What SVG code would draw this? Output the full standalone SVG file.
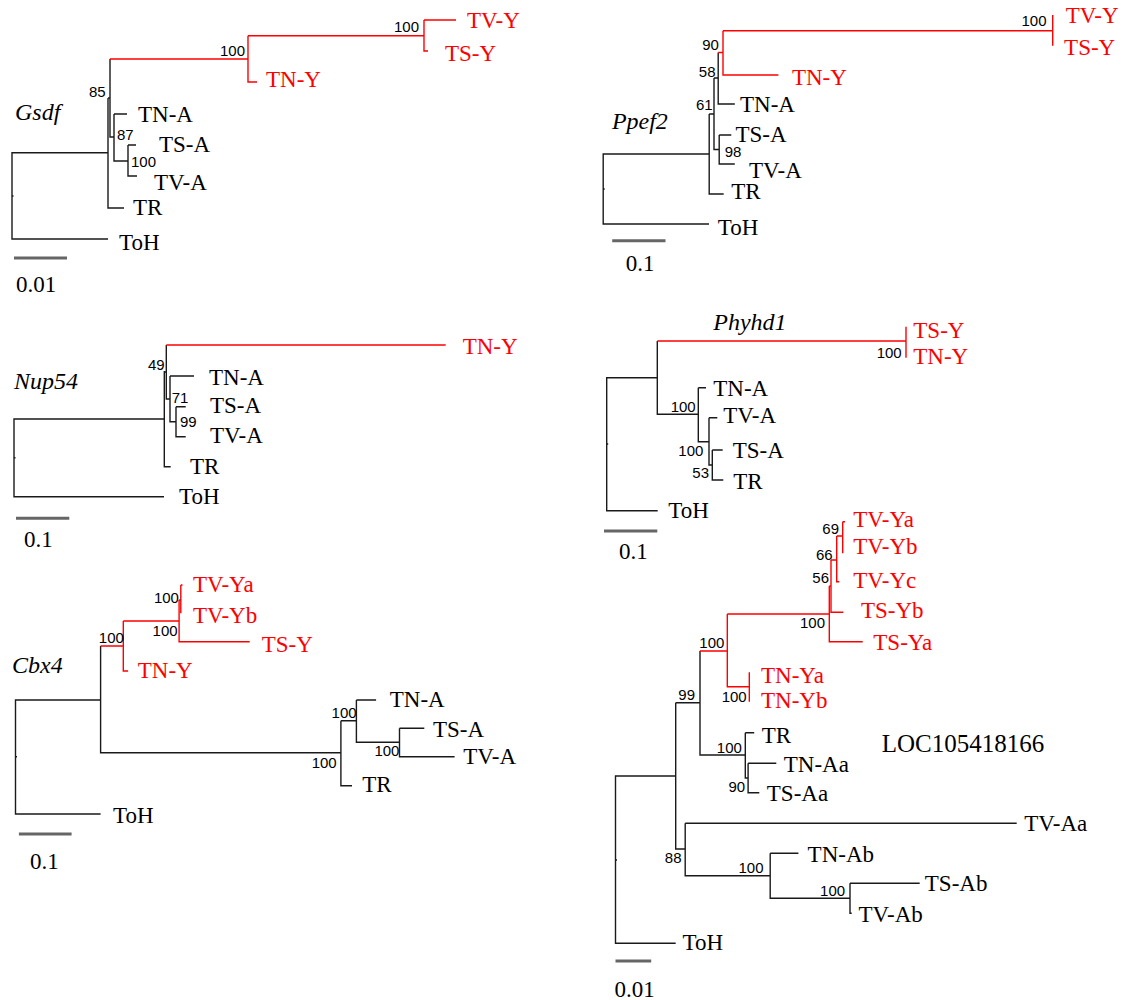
<svg xmlns="http://www.w3.org/2000/svg" width="1123" height="1000" viewBox="0 0 1123 1000">
<style>
.bk{fill:none;stroke:#1a1a1a;stroke-width:1.4}
.rd{fill:none;stroke:#ff0000;stroke-width:1.4}
.sc{fill:none;stroke:#666666;stroke-width:3}
.tip{font-family:"Liberation Serif","Times New Roman",serif;font-size:23px;fill:#000}
.tip.r{fill:#ff0000}
.bs{font-family:"Liberation Sans",Arial,sans-serif;font-size:15px;fill:#000}
.gene{font-family:"Liberation Serif","Times New Roman",serif;font-size:24px;font-style:italic;fill:#000}
.loc{font-family:"Liberation Serif","Times New Roman",serif;font-size:25px;fill:#000}
</style>
<rect width="1123" height="1000" fill="#ffffff"/>

<!-- Gsdf -->
<g id="tree-gsdf">
<g id="gsdf-branches">
<path class="bk" d="M108,152.7H12V239H108M108,98V208H124M108,98H110M110,59V137H114M114,114V161H128M114,114H127M128,145V176H137M128,145H136M12,196h1.5"/>
<path class="rd" d="M110,59H248M248,35.7V82H257M248,35.7H424M424,20V51H428M424,20H456"/>
<path class="sc" d="M14,258H67"/>
</g>
<text class="tip r" x="467" y="28">TV-Y</text>
<text class="tip r" x="445" y="61">TS-Y</text>
<text class="tip r" x="266" y="87">TN-Y</text>
<text class="tip" x="138" y="122">TN-A</text>
<text class="tip" x="159" y="152">TS-A</text>
<text class="tip" x="154" y="190">TV-A</text>
<text class="tip" x="133" y="215">TR</text>
<text class="tip" x="119" y="250">ToH</text>
<text class="gene" x="15" y="120">Gsdf</text>
<text class="bs" x="89" y="97">85</text>
<text class="bs" x="117" y="140">87</text>
<text class="bs" x="131" y="167">100</text>
<text class="bs" x="220" y="56">100</text>
<text class="bs" x="394" y="32">100</text>
<text class="tip" x="16" y="292">0.01</text>
</g>

<!-- Ppef2 -->
<g id="tree-ppef2">
<g id="ppef2-branches">
<path class="bk" d="M709.2,154H603.2V224H709M709.2,114V194H723.7M709.2,114H714M714,78V149.5H719.2M714,78H718.2M718.2,52.5V104H734.8M719.2,135V164H734.8M719.2,135H731.3M603.2,189h1.5"/>
<path class="rd" d="M718.2,52.5H723M723,30.7V75H778.4M723,30.7H1052.7M1052.7,15V45.7"/>
<path class="sc" d="M612.2,240.7H665.5"/>
</g>
<text class="tip r" x="1065.8" y="22.5">TV-Y</text>
<text class="tip r" x="1064.1" y="55">TS-Y</text>
<text class="tip r" x="791.9" y="85">TN-Y</text>
<text class="tip" x="740" y="112">TN-A</text>
<text class="tip" x="735.5" y="142">TS-A</text>
<text class="tip" x="749" y="178">TV-A</text>
<text class="tip" x="731.3" y="199">TR</text>
<text class="tip" x="717.8" y="235">ToH</text>
<text class="gene" x="611.9" y="129">Ppef2</text>
<text class="bs" x="1021.5" y="26">100</text>
<text class="bs" x="702.2" y="50">90</text>
<text class="bs" x="698.8" y="77">58</text>
<text class="bs" x="696" y="110">61</text>
<text class="bs" x="724.7" y="157">98</text>
<text class="tip" x="625.7" y="271">0.1</text>
</g>

<!-- Nup54 -->
<g id="tree-nup54">
<g id="nup54-branches">
<path class="bk" d="M164.3,419H14V496.7H164M164.3,371V466.7H170.7M164.3,372H166.3M166.3,345V399H170M170,376V421.7H176M170,376H194M176,406.7V436.7H185.7M176,406.7H185.7M14,457.7h1.5"/>
<path class="rd" d="M166.3,345H445.7"/>
<path class="sc" d="M16,518.3H69.3"/>
</g>
<text class="tip r" x="462.7" y="354">TN-Y</text>
<text class="tip" x="209" y="385">TN-A</text>
<text class="tip" x="210" y="412.7">TS-A</text>
<text class="tip" x="210" y="443">TV-A</text>
<text class="tip" x="190" y="474">TR</text>
<text class="tip" x="179" y="504.3">ToH</text>
<text class="gene" x="14" y="389">Nup54</text>
<text class="bs" x="148" y="370">49</text>
<text class="bs" x="171.7" y="403">71</text>
<text class="bs" x="180" y="427">99</text>
<text class="tip" x="24" y="546.7">0.1</text>
</g>

<!-- Phyhd1 -->
<g id="tree-phyhd1">
<g id="phyhd1-branches">
<path class="bk" d="M657.3,377.7H606.7V510.7H657.7M657.3,341V414.3H698.3M698.3,387.7V441.7H709M698.3,387.7H706M709,417.7V465H712.3M709,417.7H717.3M712.3,450V480H723.3M712.3,450H722.7M606.7,444h1.5"/>
<path class="rd" d="M657.3,341H906M906,326.7V357.7"/>
<path class="sc" d="M604,531H657.3"/>
</g>
<text class="tip r" x="913.3" y="338.3">TS-Y</text>
<text class="tip r" x="913.3" y="364.3">TN-Y</text>
<text class="tip" x="713.3" y="396">TN-A</text>
<text class="tip" x="723.3" y="422.7">TV-A</text>
<text class="tip" x="732.7" y="458.3">TS-A</text>
<text class="tip" x="733.3" y="489.3">TR</text>
<text class="tip" x="668.3" y="518">ToH</text>
<text class="gene" x="713.3" y="330">Phyhd1</text>
<text class="bs" x="876.7" y="358">100</text>
<text class="bs" x="670.7" y="411.7">100</text>
<text class="bs" x="678.3" y="456">100</text>
<text class="bs" x="692.3" y="478.3">53</text>
<text class="tip" x="619" y="559">0.1</text>
</g>

<!-- Cbx4 -->
<g id="tree-cbx4">
<g id="cbx4-branches">
<path class="bk" d="M100.6,700H15.5V814H100.6M100.6,646V752.7H340.9M340.9,720.7V785.7H352M340.9,720.7H356.4M356.4,700V742.3H399.5M356.4,700H376.1M399.5,728.3V756.7H454.6M399.5,728.3H424.3M15.5,756.7h1.5"/>
<path class="rd" d="M100.6,646H123.3M123.3,621V671H128.1M123.3,621H179.1M179.1,600V641.7H249.7M179.1,600H180.8M180.8,585V613.3M180.8,585H182.5"/>
<path class="sc" d="M18.9,834H71.6"/>
</g>
<text class="tip r" x="192.9" y="592.3">TV-Ya</text>
<text class="tip r" x="192.9" y="623.3">TV-Yb</text>
<text class="tip r" x="261.7" y="651.7">TS-Y</text>
<text class="tip r" x="137.8" y="678.3">TN-Y</text>
<text class="tip" x="389.8" y="706.7">TN-A</text>
<text class="tip" x="432.9" y="737.3">TS-A</text>
<text class="tip" x="463.2" y="764">TV-A</text>
<text class="tip" x="362.3" y="791.7">TR</text>
<text class="tip" x="113" y="822.7">ToH</text>
<text class="gene" x="12.1" y="673.3">Cbx4</text>
<text class="bs" x="153.9" y="603.3">100</text>
<text class="bs" x="152.6" y="635.7">100</text>
<text class="bs" x="98.8" y="642.7">100</text>
<text class="bs" x="331.6" y="717.7">100</text>
<text class="bs" x="374.4" y="755.7">100</text>
<text class="bs" x="311.7" y="768.3">100</text>
<text class="tip" x="30" y="869.3">0.1</text>
</g>

<!-- LOC105418166 -->
<g id="tree-loc">
<g id="loc-branches">
<path class="bk" d="M675.7,776H615.5V943.3H675.7M675.7,702.7V849H685.2M675.7,702.7H700M700,651V755H745.3M745.3,732.7V778H748.1M745.3,732.7H754.2M748.1,763.3V792.7H759.3M748.1,763.3H776.3M685.2,823.3V875.7H770.2M685.2,823.3H1016.7M770.2,853.3V898.3H850M770.2,853.3H798.4M850,883.3V913.3H851.7M850,883.3H919.7M615.5,860h1.5"/>
<path class="rd" d="M700,651H727.3M727.3,614V686.7H749.3M749.3,672.3V701.7M727.3,614H829.3M829.3,586V641.7H862.7M829.3,586H831M831,560V612.3H843.3M831,560H836.7M836.7,536V581.7H839.3M836.7,536H842.7M842.7,521.7V553.3M842.7,521.7H845"/>
<path class="sc" d="M615.5,961H651.2"/>
</g>
<text class="tip r" x="853.3" y="526.7">TV-Ya</text>
<text class="tip r" x="853.3" y="554.3">TV-Yb</text>
<text class="tip r" x="853.3" y="588.3">TV-Yc</text>
<text class="tip r" x="861" y="618.3">TS-Yb</text>
<text class="tip r" x="873.3" y="650">TS-Ya</text>
<text class="tip r" x="761" y="682.7">TN-Ya</text>
<text class="tip r" x="761" y="708.3">TN-Yb</text>
<text class="tip" x="761.7" y="743.3">TR</text>
<text class="tip" x="783.8" y="771.7">TN-Aa</text>
<text class="tip" x="766.8" y="800.7">TS-Aa</text>
<text class="tip" x="1024.3" y="830.5">TV-Aa</text>
<text class="tip" x="807.6" y="861.7">TN-Ab</text>
<text class="tip" x="924.8" y="890.7">TS-Ab</text>
<text class="tip" x="858.5" y="921.7">TV-Ab</text>
<text class="tip" x="682.5" y="950">ToH</text>
<text class="loc" x="881.7" y="751.7">LOC105418166</text>
<text class="bs" x="822.3" y="534.3">69</text>
<text class="bs" x="816" y="560">66</text>
<text class="bs" x="812.3" y="583.3">56</text>
<text class="bs" x="800" y="627.7">100</text>
<text class="bs" x="699.3" y="648.3">100</text>
<text class="bs" x="721.7" y="702.3">100</text>
<text class="bs" x="678.3" y="700">99</text>
<text class="bs" x="716.8" y="752.7">100</text>
<text class="bs" x="728.4" y="791.7">90</text>
<text class="bs" x="664.8" y="863.3">88</text>
<text class="bs" x="738.5" y="873.3">100</text>
<text class="bs" x="820.1" y="895.7">100</text>
<text class="tip" x="614.5" y="996.7">0.01</text>
</g>
</svg>
